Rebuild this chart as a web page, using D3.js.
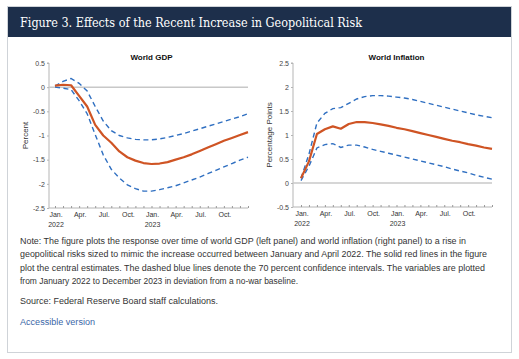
<!DOCTYPE html>
<html><head><meta charset="utf-8">
<script src="https://cdn.jsdelivr.net/npm/d3@7"></script>
<style>
html,body{margin:0;padding:0;background:#fff;}
svg{display:block;}
</style></head>
<body>
<script>
// ---- data ----
const months = d3.range(25); // Jan 2022 .. Jan 2024 (monthly steps)
const tickLabels = [
  {m:0, a:"Jan.", b:"2022"}, {m:3, a:"Apr.", b:""}, {m:6, a:"Jul.", b:""}, {m:9, a:"Oct.", b:""},
  {m:12, a:"Jan.", b:"2023"}, {m:15, a:"Apr.", b:""}, {m:18, a:"Jul.", b:""}, {m:21, a:"Oct.", b:""}
];
const gdpCentral = [0.03,0.05,0.04,-0.18,-0.40,-0.78,-1.00,-1.15,-1.33,-1.45,-1.52,-1.57,-1.59,-1.58,-1.55,-1.50,-1.45,-1.39,-1.32,-1.25,-1.18,-1.11,-1.05,-0.99,-0.93];
const gdpUpper   = [0.02,0.12,0.18,0.08,-0.08,-0.40,-0.70,-0.90,-1.00,-1.05,-1.08,-1.09,-1.09,-1.07,-1.04,-1.00,-0.96,-0.91,-0.86,-0.81,-0.76,-0.71,-0.66,-0.61,-0.55];
const gdpLower   = [0.00,-0.02,-0.05,-0.28,-0.55,-0.98,-1.40,-1.70,-1.88,-2.02,-2.10,-2.15,-2.15,-2.12,-2.08,-2.04,-1.98,-1.92,-1.86,-1.79,-1.72,-1.65,-1.58,-1.51,-1.45];
const infCentral = [0.10,0.45,1.02,1.12,1.18,1.13,1.23,1.27,1.27,1.25,1.22,1.19,1.15,1.12,1.08,1.04,1.00,0.96,0.92,0.88,0.85,0.81,0.78,0.74,0.71];
const infUpper   = [0.10,0.60,1.25,1.45,1.55,1.57,1.66,1.75,1.80,1.82,1.82,1.81,1.79,1.77,1.74,1.70,1.66,1.62,1.58,1.54,1.50,1.46,1.42,1.39,1.36];
const infLower   = [0.05,0.35,0.73,0.80,0.82,0.74,0.79,0.79,0.75,0.70,0.66,0.62,0.58,0.54,0.50,0.46,0.42,0.38,0.34,0.29,0.25,0.21,0.16,0.12,0.08];
const gdpTicks = [0.5,0,-0.5,-1,-1.5,-2,-2.5];
const infTicks = [2.5,2,1.5,1,0.5,0,-0.5];
const noteLines = [
  "Note: The figure plots the response over time of world GDP (left panel) and world inflation (right panel) to a rise in",
  "geopolitical risks sized to mimic the increase occurred between January and April 2022. The solid red lines in the figure",
  "plot the central estimates. The dashed blue lines denote the 70 percent confidence intervals. The variables are plotted",
  "from January 2022 to December 2023 in deviation from a no-war baseline."
];
const noteWidths = [446, 467, 465, 278];

// ---- drawing ----
const W = 519, H = 359;
const svg = d3.select("body").append("svg").attr("width", W).attr("height", H);

svg.append("rect").attr("x",7.5).attr("y",6.5).attr("width",504).attr("height",346)
  .attr("fill","#fff").attr("stroke","#cfd3d8").attr("stroke-width",1);
svg.append("rect").attr("x",8).attr("y",7).attr("width",503).attr("height",30).attr("fill","#1d2f4b");
svg.append("text").attr("x",20).attr("y",27).attr("fill","#fff")
  .attr("font-family","Georgia, 'DejaVu Serif', 'Liberation Serif', serif").attr("font-size",13.5)
  .attr("textLength",342).attr("lengthAdjust","spacingAndGlyphs")
  .text("Figure 3. Effects of the Recent Increase in Geopolitical Risk");

const red = "#cf5424", blue = "#2f6fc1";
const font = "Arial, 'Liberation Sans', Helvetica, sans-serif";

function panel(cfg){
  const x = d3.scaleLinear().domain([0,24]).range([cfg.x0, cfg.x1]);
  const y = d3.scaleLinear().domain([cfg.ymin, cfg.ymax]).range([cfg.yb, cfg.yt]);
  const g = svg.append("g");
  g.append("text").attr("x",(cfg.x0+cfg.x1)/2).attr("y",60).attr("text-anchor","middle")
    .attr("font-family",font).attr("font-weight","bold").attr("font-size",8).attr("fill","#111").text(cfg.title);
  const ya = d3.axisLeft(y).tickValues(cfg.ticks).tickSize(2).tickFormat(d => d3.format("")(d).replace("−","-"));
  const yg = g.append("g").attr("transform",`translate(${cfg.ax},0)`).call(ya);
  yg.select(".domain").attr("stroke","#b5b5b5").attr("d",`M-2,${cfg.yt}H0V${cfg.yb}`);
  yg.selectAll(".tick line").attr("stroke","#b5b5b5");
  yg.selectAll(".tick text").attr("font-family",font).attr("font-size",7).attr("fill","#444").attr("x",-4);
  g.append("text").attr("transform",`translate(${cfg.ax-21},${(cfg.yt+cfg.yb)/2}) rotate(-90)`)
    .attr("text-anchor","middle").attr("font-family",font).attr("font-size",8).attr("fill","#333").text(cfg.ytitle);
  const xa = d3.axisTop(x).tickValues(months).tickSize(2).tickFormat("");
  const xg = g.append("g").attr("transform",`translate(0,${cfg.yb})`).call(xa);
  xg.select(".domain").attr("stroke","#b5b5b5").attr("d",`M${cfg.ax},0H${cfg.x1}`);
  xg.selectAll(".tick line").attr("stroke","#999");
  const lab = g.append("g").selectAll("g").data(tickLabels).join("g")
    .attr("transform", d => `translate(${x(d.m)+1},${cfg.yb})`);
  lab.append("text").attr("y",9).attr("text-anchor","middle").attr("font-family",font).attr("font-size",7).attr("fill","#333").text(d=>d.a);
  lab.append("text").attr("y",19).attr("text-anchor","middle").attr("font-family",font).attr("font-size",7).attr("fill","#333").text(d=>d.b);
  g.append("line").attr("x1",cfg.ax).attr("x2",cfg.x1).attr("y1",y(0)).attr("y2",y(0))
    .attr("stroke","#c8c8c8").attr("stroke-width",1.5);
  const line = d3.line().x((d,i)=>x(months[i])).y(d=>y(d));
  g.append("path").datum(cfg.upper).attr("d",line).attr("fill","none").attr("stroke",blue)
    .attr("stroke-width",1.4).attr("stroke-dasharray","5,3.5");
  g.append("path").datum(cfg.lower).attr("d",line).attr("fill","none").attr("stroke",blue)
    .attr("stroke-width",1.4).attr("stroke-dasharray","5,3.5");
  g.append("path").datum(cfg.central).attr("d",line).attr("fill","none").attr("stroke",red)
    .attr("stroke-width",2.2).attr("stroke-linejoin","round");
}

panel({x0:55, x1:248, ax:49, yt:63, yb:208, ymin:-2.5, ymax:0.5, ticks:gdpTicks,
  title:"World GDP", ytitle:"Percent", central:gdpCentral, upper:gdpUpper, lower:gdpLower});
panel({x0:301, x1:492, ax:293, yt:63, yb:207, ymin:-0.5, ymax:2.5, ticks:infTicks,
  title:"World Inflation", ytitle:"Percentage Points", central:infCentral, upper:infUpper, lower:infLower});

const ng = svg.append("g").attr("font-family",font).attr("font-size",8.3).attr("fill","#333");
noteLines.forEach((t,i)=>{
  ng.append("text").attr("x",20).attr("y",244+i*13.3).attr("textLength",noteWidths[i]).attr("lengthAdjust","spacingAndGlyphs").text(t);
});
ng.append("text").attr("x",20).attr("y",304).attr("textLength",198).attr("lengthAdjust","spacingAndGlyphs").text("Source: Federal Reserve Board staff calculations.");
svg.append("text").attr("x",20).attr("y",325).attr("font-family",font).attr("font-size",8.3).attr("fill","#3a66a7")
  .attr("textLength",75).attr("lengthAdjust","spacingAndGlyphs").text("Accessible version");
</script>
</body></html>
